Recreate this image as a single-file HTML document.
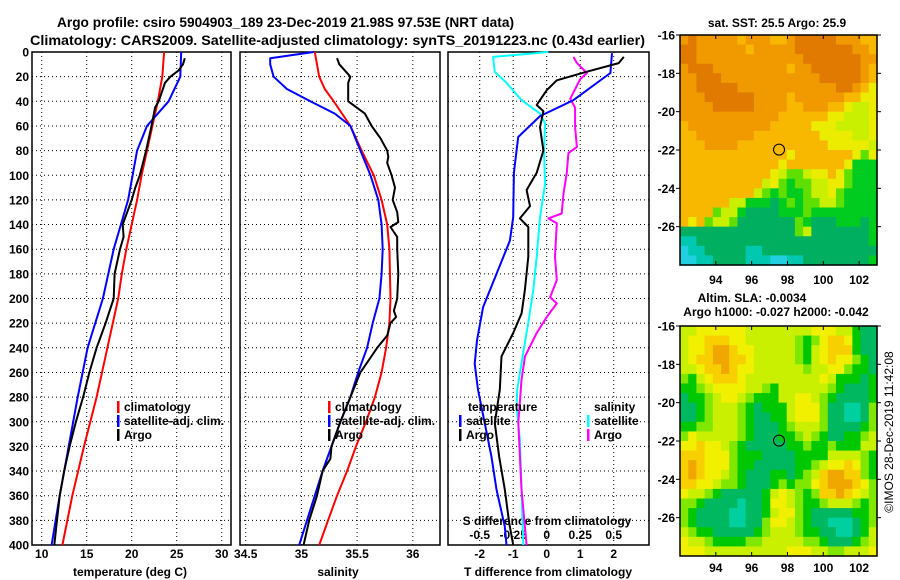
<!DOCTYPE html>
<html><head><meta charset="utf-8"><style>
html,body{margin:0;padding:0;background:#fff;}
svg{display:block;font-family:"Liberation Sans",sans-serif;font-weight:bold;}
</style></head><body>
<svg id="chart" width="900" height="580" viewBox="0 0 900 580" xmlns="http://www.w3.org/2000/svg">
<text x="57" y="27" font-size="14" textLength="457" lengthAdjust="spacingAndGlyphs">Argo profile: csiro 5904903_189 23-Dec-2019 21.98S 97.53E (NRT data)</text>
<text x="30" y="45" font-size="14" textLength="615" lengthAdjust="spacingAndGlyphs">Climatology: CARS2009. Satellite-adjusted climatology: synTS_20191223.nc (0.43d earlier)</text>
<g id="plots"></g>
</svg>
<script>
// ---- data ----
const depthTicks=[0,20,40,60,80,100,120,140,160,180,200,220,240,260,280,300,320,340,360,380,400];
const tTicks=[10,15,20,25,30];
const sTicks=[34.5,35,35.5,36];
const dTTicks=[-2,-1,0,1,2];
const dSTicks=[-0.5,-0.25,0,0.25,0.5];
const dSTickLabels=["-0.5","-0.25","0","0.25","0.5"];

const tempClimDepth=[0,20,40,60,80,100,120,140,160,180,200,240,280,320,360,400];
const tempClimVal=[23.6,23.4,22.9,22.3,21.7,21.1,20.6,20.0,19.4,18.9,18.5,17.3,16.1,14.7,13.4,12.3];
const tempSatDepth=[0,20,40,60,80,100,120,140,160,180,200,240,280,320,360,400];
const tempSatVal=[25.5,25.4,24.1,21.7,20.6,20.1,19.6,18.8,18.0,17.4,16.8,15.1,14.0,13.0,12.0,11.1];
const tempArgoDepth=[5,10,15,20,25,40,45,60,80,100,110,120,140,150,160,180,200,220,240,260,280,300,320,340,360,380,400];
const tempArgoVal=[25.9,25.7,25.2,24.3,23.7,23.0,22.6,22.2,21.6,20.9,20.4,20.0,19.0,19.1,18.7,18.1,18.0,17.1,16.1,15.3,14.6,13.8,13.1,12.5,12.0,11.7,11.4];

const salClimDepth=[0,5,20,30,40,60,80,100,120,140,160,200,220,240,260,280,300,320,340,360,380,400];
const salClimVal=[35.12,35.13,35.16,35.21,35.29,35.44,35.54,35.65,35.72,35.77,35.79,35.80,35.79,35.76,35.72,35.66,35.58,35.49,35.41,35.32,35.24,35.16];
const salSatDepth=[0,5,10,20,30,40,50,60,80,100,120,140,160,180,200,220,240,260,280,300,320,340,360,380,400];
const salSatVal=[35.11,34.72,34.72,34.75,34.87,35.08,35.30,35.44,35.53,35.62,35.69,35.72,35.73,35.72,35.70,35.64,35.59,35.51,35.44,35.35,35.27,35.19,35.12,35.05,34.98];
const salArgoDepth=[5,10,20,25,40,50,60,70,80,85,90,100,110,120,130,138,142,150,160,180,200,210,215,220,230,240,260,280,300,320,330,340,360,380,400];
const salArgoVal=[35.32,35.34,35.44,35.42,35.42,35.57,35.63,35.71,35.77,35.78,35.77,35.81,35.84,35.82,35.86,35.87,35.80,35.86,35.86,35.87,35.86,35.83,35.85,35.80,35.77,35.68,35.53,35.44,35.35,35.27,35.26,35.19,35.14,35.07,35.02];

const dTSatDepth=[1,17,39,52,69,98,134,153,180,207,234,253,274,301,328,355,385,400];
const dTSatVal=[1.95,1.9,0.8,-0.2,-0.85,-0.98,-1.0,-1.1,-1.5,-1.9,-2.08,-2.15,-2.05,-1.85,-1.65,-1.5,-1.25,-1.2];
const dTArgoDepth=[4,9,16,23,31,43,48,61,80,98,112,125,135,142,166,193,212,228,247,274,301,328,355,382,400];
const dTArgoVal=[2.3,2.15,1.2,0.3,0.0,-0.3,-0.1,-0.2,-0.1,-0.3,-0.6,-0.5,-0.8,-0.55,-0.55,-0.65,-0.75,-1.0,-1.35,-1.4,-1.55,-1.42,-1.25,-1.12,-1.0];
const dSSatDepth=[0,4,16,25,39,50,58,80,107,134,166,193,220,247,274,288,315,355,400];
const dSSatVal=[0.012,-0.4,-0.388,-0.3,-0.188,-0.05,-0.012,-0.02,-0.012,-0.05,-0.075,-0.1,-0.138,-0.18,-0.22,-0.225,-0.2,-0.188,-0.175];
const dSArgoDepth=[4,9,17,22,38,45,61,77,82,98,115,131,135,139,166,185,199,204,215,228,247,266,301,328,355,400];
const dSArgoVal=[0.2,0.225,0.3,0.25,0.175,0.212,0.212,0.225,0.162,0.15,0.125,0.112,0.012,0.075,0.062,0.075,0.025,0.075,0.0,-0.075,-0.162,-0.188,-0.212,-0.2,-0.188,-0.15];

const sstPalette={i:"#e07a00",h:"#f09a00",g:"#f8b800",f:"#ecec00",e:"#c8f000",d:"#60e000",c:"#00cc20",b:"#00b060",a:"#00c8b0",A:"#20d0e0"};
const sstGrid=[
"hihhhhhghhhgghiiiiihhhgg","iihhhhhhghhhhhiiiiiiihhg","iihhhhhhhhhhhhhiiiiiiihh","hiiihhhhhhhhhghhiiiiiihg",
"hhiiihhhhhhhhhhhhiiiiihg","hhiiiiihhhhhhhhhhhhiihgf","hhhiiiiiihhhhghhhhhhggff","hhhhiiiiihhhhgghhhggfeef",
"hhhhhhhhhhhhggggggffeeef","ghhhhhhhhhhgggggfffeeeef","gghhhhhhhggggggggffffeef","ggghhhhgggggggggggfffffe",
"gggggggggggggfgggggggfdf","ggggggggggggfgggggggfccc","gggggggggggfeddeffgfdccc","ggggggggggefdcddeeffdccc",
"gggggggggedcdccdeefdcccc","ggggggeecccbcdcddeedcccc","ggggdeecbbbbcccdcccccccc","gfgdeedbbbbbbbdcbbbcccbc",
"bbbbbbbbbbbbbbdebbbbbbbc","aabbbbbbbbbbbbbbbbbbbbbc","Aaabbbbbaabbbbbbbbbbbbbb","AAaabbbbaaaAAaabbbbbbbbc"];
const slaPalette={c:"#00c800",b:"#00b860",a:"#00d0a0",d:"#80e800",e:"#c8f000",f:"#f0f000",g:"#f8d000",h:"#f0a800"};
const slaGrid=[
"eeffffffeeeeeeeefffeecbb","effgggffeeeeeedcdfggfcbb","effghhgffeeeeedcefgggcbb","efgghhggfeeeeedcefgffdcb",
"eefgghgffeeeeeedeeffdccb","dcefgggfeeeeeeeeefecccbc","ccdeffffeedceeeeeedcbbbc","bccdeffedccceeffedcbbbbc",
"bbcdeeedcbcccefffdbbaabd","bbcdeeedcbbccefffdbbaabd","ccddeeedcbbbcdeeedbbbbcd","dfeeeeedcbbbccdedcbbccde",
"ffgffedcbbbbbccdccdcccee","gggfffdcccbbbbcccceeeedc","ghgfffdccbbbbbccdeffgfdc","ghgffedcbbbccbcdeghhggdc",
"ggffeddcbbbcdcddfghhhgfd","feedcbbbbbcefedcdgghgfed","ddcbbbbabbcffedccdeeedcd","dcbbbbaabbceffdcbbbbbccd",
"dcbbbbaabbdffedcbbaaabcd","edccbbbbbcdeeedccbbaabce","feedccccddeeeeeddcbbbcde","fffeeeeeeeeeefffeeddeeef"];
const lonTicks=[94,96,98,100,102];
const latTicks=[-16,-18,-20,-22,-24,-26];
const argoLon=97.53, argoLat=-21.98;

// ---- scales ----
const yD=d=>52+d*1.2325;
const xT=v=>41.7+(v-10)*9;
const xS=v=>245.7+(v-34.5)*111.4;
const xDT=v=>546.7+v*33.5;
const xDS=v=>546.7+v*4*33.5;
const NS="http://www.w3.org/2000/svg";
const root=document.getElementById('plots');
function mk(tag,attrs,parent){const e=document.createElementNS(NS,tag);for(const k in attrs)e.setAttribute(k,attrs[k]);(parent||root).appendChild(e);return e;}
function txt(s,x,y,anchor,size,name){const t=mk('text',{x:x,y:y,'text-anchor':anchor,'font-size':size});t.textContent=s;


return t;}
function line(depths,vals,xf,color,w,name){const pts=depths.map((d,i)=>xf(vals[i]).toFixed(1)+','+yD(d).toFixed(1)).join(' ');
const p=mk('polyline',{points:pts,fill:'none',stroke:color,'stroke-width':w,'stroke-linejoin':'round'});

}

const panels=[{x0:32,x1:231,xf:xT,ticks:tTicks,labels:tTicks.map(String),name:'temperature'},
{x0:240,x1:440,xf:xS,ticks:sTicks,labels:sTicks.map(String),name:'salinity'},
{x0:448,x1:649,xf:xDT,ticks:dTTicks,labels:dTTicks.map(String),name:'difference'}];
panels.forEach(p=>{
  depthTicks.forEach(d=>{const g=mk('line',{x1:p.x0,x2:p.x1,y1:yD(d),y2:yD(d),stroke:'#000','stroke-width':1,'stroke-dasharray':'1,3'});
  
  });
  p.ticks.forEach((v,i)=>{const g=mk('line',{x1:p.xf(v),x2:p.xf(v),y1:52,y2:545,stroke:'#000','stroke-width':1,'stroke-dasharray':'1,3'});
  
  
  txt(p.labels[i],p.xf(v),558,'middle',12,'x-tick-label');});
  const r=mk('rect',{x:p.x0,y:52,width:p.x1-p.x0,height:493,fill:'none',stroke:'#000','stroke-width':1.5});
  
  
});
depthTicks.forEach(d=>txt(String(d),29,yD(d)+4.5,'end',12,'depth-tick-label'));
txt('temperature (deg C)',130,576,'middle',12,'x-axis-title-temperature');
txt('salinity',338,576,'middle',12,'x-axis-title-salinity');
txt('T difference from climatology',548,576,'middle',12,'x-axis-title-t-difference');
txt('S difference from climatology',547,525,'middle',12,'s-axis-title');
dSTicks.forEach((v,i)=>txt(dSTickLabels[i],xDS(v),539,'middle',12,'s-tick-label'));

line(tempClimDepth,tempClimVal,xT,'#ff0000',2,'temp-climatology-line');
line(tempSatDepth,tempSatVal,xT,'#0000ff',2,'temp-satellite-line');
line(tempArgoDepth,tempArgoVal,xT,'#000',2,'temp-argo-line');
line(salClimDepth,salClimVal,xS,'#ff0000',2,'sal-climatology-line');
line(salSatDepth,salSatVal,xS,'#0000ff',2,'sal-satellite-line');
line(salArgoDepth,salArgoVal,xS,'#000',2,'sal-argo-line');
line(dSSatDepth,dSSatVal,xDS,'#00ffff',2,'s-diff-satellite-line');
line(dSArgoDepth,dSArgoVal,xDS,'#ff00ff',2,'s-diff-argo-line');
line(dTSatDepth,dTSatVal,xDT,'#0000ff',2,'t-diff-satellite-line');
line(dTArgoDepth,dTArgoVal,xDT,'#000',2,'t-diff-argo-line');

function legend(x,y,color,label,name){const b=mk('rect',{x:x,y:y-10,width:2.5,height:12,fill:color});


txt(label,x+7,y,'start',12,name+'-label');}
legend(117,411,'#ff0000','climatology','legend-t-climatology');
legend(117,425,'#0000ff','satellite-adj. clim.','legend-t-satellite');
legend(117,439,'#000','Argo','legend-t-argo');
legend(328,411,'#ff0000','climatology','legend-s-climatology');
legend(328,425,'#0000ff','satellite-adj. clim.','legend-s-satellite');
legend(328,439,'#000','Argo','legend-s-argo');
txt('temperature',468,411,'start',12,'legend-temperature-header');
txt('salinity',594,411,'start',12,'legend-salinity-header');
legend(459,425,'#0000ff','satellite','legend-dt-satellite');
legend(459,439,'#000','Argo','legend-dt-argo');
legend(587,425,'#00ffff','satellite','legend-ds-satellite');
legend(587,439,'#ff00ff','Argo','legend-ds-argo');

// ---- maps ----
function map(top,grid,pal,name,labelY){
  const x0=680,w=197,h=230,lon0=92,lon1=103,lat0=-16,lat1=-28;
  const lx=v=>x0+(v-lon0)/(lon1-lon0)*w, ly=v=>top+(lat0-v)/(lat0-lat1)*h;
  const rows=grid.length, cols=grid[0].length, cw=w/cols, ch=h/rows;
  const g=mk('g',{});
  
  
  grid.forEach((row,r)=>{for(let c=0;c<cols;c++){const cell=mk('rect',{x:(x0+c*cw).toFixed(2),y:(top+r*ch).toFixed(2),width:(cw+0.6).toFixed(2),height:(ch+0.6).toFixed(2),fill:pal[row[c]]},g);
  
  }});
  const fr=mk('rect',{x:x0,y:top,width:w,height:h,fill:'none',stroke:'#000','stroke-width':1.5});
  
  
  lonTicks.forEach(v=>{mk('line',{x1:lx(v),x2:lx(v),y1:top,y2:top+4,stroke:'#000'});mk('line',{x1:lx(v),x2:lx(v),y1:top+h,y2:top+h-4,stroke:'#000'});
    txt(String(v),lx(v),labelY,'middle',12,'lon-tick-label');});
  latTicks.forEach(v=>{mk('line',{x1:x0-4,x2:x0,y1:ly(v),y2:ly(v),stroke:'#000'});mk('line',{x1:x0+w,x2:x0+w+4,y1:ly(v),y2:ly(v),stroke:'#000'});
    txt(String(v),675,ly(v)+4.5,'end',12,'lat-tick-label');});
  const c=mk('circle',{cx:lx(argoLon),cy:ly(argoLat),r:5.5,fill:'none',stroke:'#000','stroke-width':1});
  
  
}
map(35,sstGrid,sstPalette,'sst-map',284);
map(326,slaGrid,slaPalette,'sla-map',572);
txt('sat. SST: 25.5 Argo: 25.9',777,27,'middle',12,'sst-map-title');
txt('Altim. SLA: -0.0034',752,302,'middle',12,'sla-map-title');
txt('Argo h1000: -0.027 h2000: -0.042',776,316,'middle',12,'argo-height-title');
const cp=txt('©IMOS 28-Dec-2019 11:42:08',0,0,'middle',12,'copyright-text');
cp.setAttribute('font-weight','normal');
cp.setAttribute('transform','translate(893,432) rotate(-90)');
</script>
</body></html>
